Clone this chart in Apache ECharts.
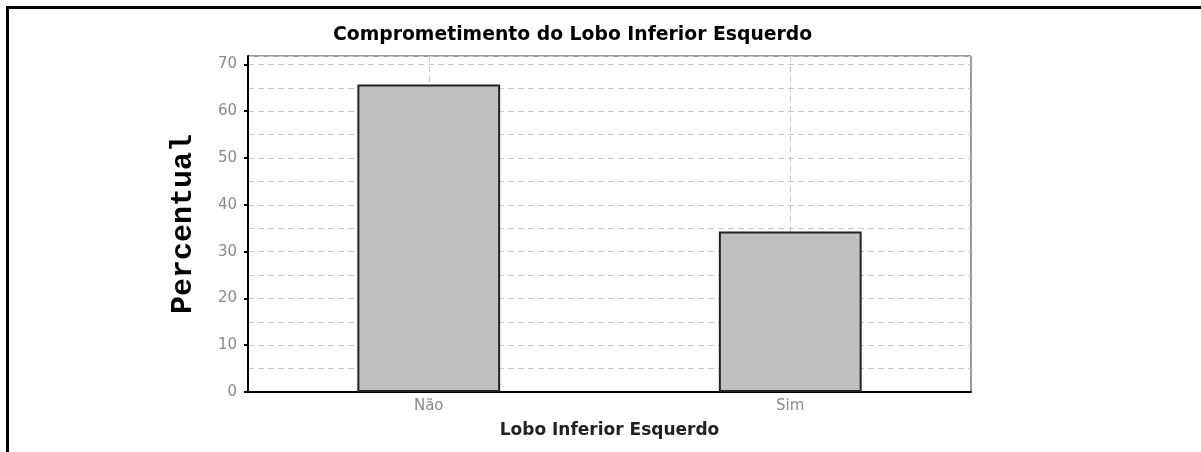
<!DOCTYPE html>
<html>
<head>
<meta charset="utf-8">
<script src="https://cdn.jsdelivr.net/npm/echarts@6/dist/echarts.min.js"></script>
<style>
    html, body { margin: 0; padding: 0; background: #fff; }
    #frame {
        position: absolute; left: 6px; top: 6px; width: 1195px; height: 446px;
        border-top: 3px solid #000; border-left: 3px solid #000;
    }
    #main { position: absolute; left: 0; top: 0; width: 1201px; height: 452px; }
</style>
</head>
<body>
<div id="frame"></div>
<div id="main"></div>
<script>
// 数据部分
var categories = ['Não', 'Sim'];
var percentValues = [65.7, 34.3];
var yTickValues = [0, 10, 20, 30, 40, 50, 60, 70];

var titleText = 'Comprometimento do Lobo Inferior Esquerdo';
var xAxisName = 'Lobo Inferior Esquerdo';
var yAxisName = 'Percentual';

var Y_MAX = 71.8;

// 虚线网格样式
var dashStyle = {
    color: '#c8c8c8',
    width: 1,
    type: [6, 4]
};

var labelFont = {
    fontFamily: 'DejaVu Sans',
    fontSize: 15,
    color: '#8a8a8a'
};

var barChart = echarts.init(document.getElementById('main'), null, {renderer: 'canvas'});

var setOption = {
    backgroundColor: 'transparent',
    animation: false,
    title: {
        text: titleText,
        left: 328,
        top: 21,
        textStyle: {
            fontFamily: 'DejaVu Sans',
            fontWeight: 'bold',
            fontSize: 18.8,
            color: '#000'
        }
    },
    grid: {
        left: 248,
        right: 230,
        top: 56,
        bottom: 60,
        show: true,
        borderColor: '#333',
        borderWidth: 1,
        backgroundColor: '#fff'
    },
    xAxis: {
        type: 'category',
        data: categories,
        name: xAxisName,
        nameLocation: 'middle',
        nameGap: 30,
        nameTextStyle: {
            fontFamily: 'DejaVu Sans',
            fontWeight: 'bold',
            fontSize: 17,
            color: '#222'
        },
        axisLine: {lineStyle: {color: '#000', width: 2}},
        axisTick: {alignWithLabel: true, length: 4, lineStyle: {color: '#000', width: 2}},
        axisLabel: Object.assign({margin: 7}, labelFont),
        splitLine: {show: true, alignWithLabel: true, lineStyle: dashStyle}
    },
    yAxis: [
        {
            // 网格线（每5一条）
            type: 'value',
            min: 0,
            max: Y_MAX,
            interval: 5,
            name: yAxisName,
            nameLocation: 'middle',
            nameRotate: 90,
            nameGap: 50,
            nameTextStyle: {
                fontFamily: "'Liberation Mono', 'Courier New', 'DejaVu Sans Mono', monospace",
                fontWeight: 'bold',
                fontSize: 30,
                color: '#000'
            },
            axisLine: {show: true, lineStyle: {color: '#000', width: 2}},
            axisTick: {show: false},
            axisLabel: {show: false},
            splitLine: {show: true, lineStyle: dashStyle}
        },
        {
            // 刻度和标签（每10一个）
            type: 'value',
            position: 'left',
            min: 0,
            max: Y_MAX,
            interval: 10,
            axisLine: {show: false},
            axisTick: {show: true, length: 4, customValues: yTickValues, lineStyle: {color: '#000', width: 2}},
            axisLabel: Object.assign({margin: 11, customValues: yTickValues}, labelFont),
            splitLine: {show: false}
        }
    ],
    series: [
        {
            name: yAxisName,
            type: 'bar',
            data: percentValues,
            barWidth: '39.5%',
            itemStyle: {
                color: '#c0c0c0',
                borderColor: '#222',
                borderWidth: 2
            }
        }
    ]
};

barChart.setOption(setOption);
</script>
</body>
</html>
